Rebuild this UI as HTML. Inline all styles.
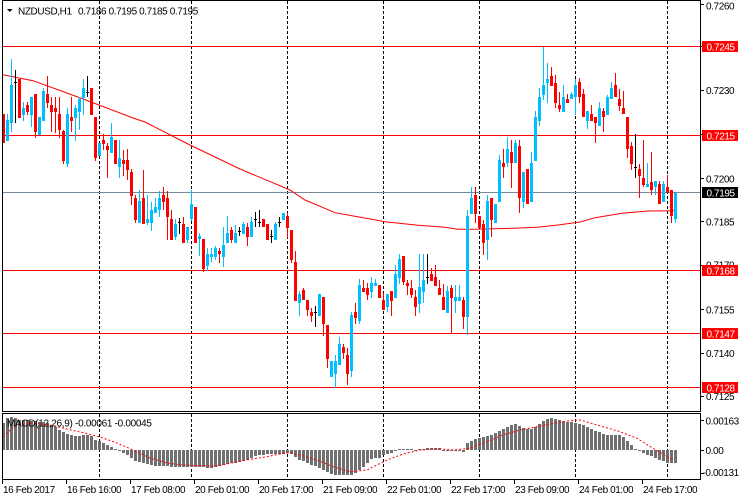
<!DOCTYPE html>
<html><head><meta charset="utf-8"><style>
html,body{margin:0;padding:0;background:#fff;}
svg{display:block}
text{font-family:"Liberation Sans",Arial,sans-serif;font-size:10px;letter-spacing:-0.4px;fill:#000;}
</style></head><body>
<svg width="740" height="500" viewBox="0 0 740 500" xmlns="http://www.w3.org/2000/svg" shape-rendering="crispEdges">
<defs>
<clipPath id="cm"><rect x="3" y="1" width="697" height="410"/></clipPath>
<clipPath id="cd"><rect x="3" y="414" width="697" height="65"/></clipPath>
</defs>
<rect x="0" y="0" width="740" height="500" fill="#fff"/>

<!-- main panel -->
<g clip-path="url(#cm)">
<g stroke="#000" stroke-width="1" stroke-dasharray="3,2" fill="none">
<line x1="99.5" y1="1" x2="99.5" y2="411"/>
<line x1="191.5" y1="1" x2="191.5" y2="411"/>
<line x1="287.5" y1="1" x2="287.5" y2="411"/>
<line x1="383.5" y1="1" x2="383.5" y2="411"/>
<line x1="479.5" y1="1" x2="479.5" y2="411"/>
<line x1="575.5" y1="1" x2="575.5" y2="411"/>
<line x1="667.5" y1="1" x2="667.5" y2="411"/>
</g>
<g fill="#ff0000">
<rect x="3" y="46" width="697" height="1"/>
<rect x="3" y="135" width="697" height="1"/>
<rect x="3" y="270" width="697" height="1"/>
<rect x="3" y="333" width="697" height="1"/>
<rect x="3" y="387" width="697" height="1"/>
</g>
<rect x="3" y="192" width="697" height="1" fill="#778899"/>
<polyline fill="none" stroke="#ff0000" stroke-width="1" shape-rendering="auto" points="2,74.5 33,80.7 67,93 99,105 133,118 145,122 190,145 240,169 290,190 305,200 335,212.7 352,215.7 385,221.7 418,225.3 445,227.3 458,229.3 475,229.3 513,228.3 537,227.3 558,225 580,222 595,217.7 622,213.3 648,211 675,210.7"/>
<path fill="#00bfff" d="M6 120h3V141h-3zM10 85h3V123h-3zM22 108h3V115h-3zM30 97h3V115h-3zM38 117h3V135h-3zM42 91h3V121h-3zM66 114h3V164h-3zM74 108h3V118h-3zM78 99h3V112h-3zM82 88h3V98h-3zM98 143h3V156h-3zM110 137h3V153h-3zM118 158h3V167h-3zM138 201h3V223h-3zM146 219h3V223h-3zM150 210h3V223h-3zM154 207h3V213h-3zM158 198h3V210h-3zM174 224h3V237h-3zM186 227h3V240h-3zM190 204h3V219h-3zM198 236h3V239h-3zM206 254h3V266h-3zM210 254h3V257h-3zM214 248h3V257h-3zM222 245h3V257h-3zM226 233h3V243h-3zM234 233h3V243h-3zM242 224h3V234h-3zM250 222h3V237h-3zM274 224h3V240h-3zM282 213h3V220h-3zM298 294h3V303h-3zM318 294h3V316h-3zM330 361h3V377h-3zM334 361h3V374h-3zM338 344h3V365h-3zM350 315h3V371h-3zM358 285h3V321h-3zM370 283h3V292h-3zM374 283h3V286h-3zM386 294h3V307h-3zM394 274h3V298h-3zM398 259h3V278h-3zM418 287h3V304h-3zM422 280h3V292h-3zM446 291h3V313h-3zM454 297h3V301h-3zM458 297h3V301h-3zM466 216h3V317h-3zM470 198h3V214h-3zM486 201h3V240h-3zM494 204h3V223h-3zM498 160h3V202h-3zM506 149h3V163h-3zM514 143h3V163h-3zM522 172h3V202h-3zM530 163h3V202h-3zM534 117h3V161h-3zM538 97h3V121h-3zM542 85h3V95h-3zM546 79h3V83h-3zM562 97h3V112h-3zM570 94h3V99h-3zM574 85h3V97h-3zM586 111h3V121h-3zM598 108h3V126h-3zM606 97h3V115h-3zM610 88h3V99h-3zM646 184h3V187h-3zM654 181h3V187h-3zM662 184h3V202h-3zM674 193h3V219h-3z
M7 114h1V141h-1zM11 59h1V132h-1zM23 102h1V121h-1zM31 97h1V127h-1zM43 88h1V121h-1zM67 108h1V167h-1zM75 105h1V141h-1zM79 97h1V130h-1zM83 79h1V115h-1zM111 123h1V153h-1zM119 140h1V178h-1zM139 190h1V223h-1zM147 195h1V225h-1zM151 202h1V231h-1zM155 198h1V213h-1zM159 191h1V217h-1zM175 219h1V240h-1zM187 227h1V243h-1zM191 190h1V221h-1zM199 233h1V256h-1zM207 248h1V271h-1zM211 248h1V262h-1zM215 246h1V260h-1zM223 227h1V267h-1zM227 216h1V243h-1zM235 225h1V243h-1zM243 222h1V234h-1zM251 217h1V237h-1zM275 222h1V240h-1zM299 291h1V316h-1zM335 355h1V388h-1zM339 337h1V365h-1zM351 312h1V377h-1zM359 279h1V324h-1zM371 277h1V298h-1zM375 279h1V286h-1zM387 294h1V312h-1zM395 265h1V298h-1zM399 254h1V284h-1zM419 254h1V313h-1zM423 254h1V303h-1zM447 286h1V313h-1zM455 285h1V313h-1zM459 285h1V301h-1zM467 210h1V335h-1zM471 187h1V214h-1zM487 195h1V260h-1zM499 155h1V202h-1zM507 137h1V167h-1zM515 140h1V163h-1zM523 172h1V208h-1zM531 152h1V202h-1zM535 111h1V161h-1zM539 88h1V126h-1zM543 47h1V100h-1zM547 63h1V103h-1zM563 85h1V112h-1zM571 92h1V99h-1zM575 79h1V115h-1zM587 111h1V129h-1zM599 102h1V126h-1zM607 95h1V115h-1zM611 82h1V99h-1zM647 163h1V187h-1zM655 181h1V195h-1zM663 181h1V202h-1zM675 193h1V223h-1z"/>
<path fill="#ff0000" d="M2 114h3V143h-3zM18 79h3V118h-3zM26 105h3V112h-3zM34 94h3V132h-3zM46 94h3V103h-3zM50 105h3V112h-3zM54 108h3V112h-3zM58 114h3V130h-3zM62 131h3V161h-3zM70 117h3V121h-3zM90 88h3V115h-3zM94 117h3V158h-3zM102 140h3V144h-3zM106 146h3V150h-3zM114 140h3V164h-3zM122 160h3V164h-3zM126 160h3V170h-3zM130 172h3V196h-3zM134 198h3V220h-3zM142 198h3V224h-3zM162 195h3V202h-3zM166 198h3V217h-3zM170 219h3V240h-3zM182 224h3V243h-3zM194 207h3V243h-3zM202 239h3V269h-3zM218 251h3V254h-3zM230 230h3V240h-3zM246 227h3V237h-3zM262 219h3V227h-3zM266 224h3V240h-3zM286 216h3V228h-3zM290 230h3V260h-3zM294 262h3V301h-3zM302 290h3V300h-3zM306 300h3V310h-3zM310 312h3V316h-3zM322 297h3V324h-3zM326 325h3V359h-3zM342 347h3V353h-3zM346 355h3V374h-3zM354 312h3V318h-3zM362 288h3V292h-3zM366 288h3V295h-3zM378 285h3V298h-3zM382 300h3V310h-3zM390 291h3V301h-3zM402 256h3V282h-3zM406 283h3V286h-3zM410 288h3V295h-3zM414 297h3V307h-3zM430 274h3V281h-3zM434 277h3V286h-3zM438 288h3V295h-3zM442 297h3V310h-3zM450 288h3V298h-3zM462 300h3V317h-3zM474 195h3V214h-3zM478 216h3V228h-3zM482 224h3V243h-3zM490 198h3V220h-3zM502 163h3V167h-3zM510 152h3V163h-3zM518 146h3V198h-3zM526 169h3V204h-3zM550 76h3V86h-3zM554 83h3V103h-3zM558 105h3V109h-3zM566 99h3V103h-3zM578 82h3V97h-3zM582 94h3V117h-3zM590 114h3V121h-3zM594 117h3V123h-3zM602 111h3V117h-3zM614 85h3V97h-3zM618 99h3V106h-3zM622 108h3V114h-3zM626 117h3V149h-3zM630 146h3V164h-3zM638 169h3V176h-3zM642 178h3V185h-3zM650 182h3V190h-3zM658 184h3V204h-3zM666 187h3V193h-3zM670 190h3V216h-3z
M27 102h1V115h-1zM35 94h1V138h-1zM47 76h1V108h-1zM51 97h1V132h-1zM55 97h1V133h-1zM59 97h1V138h-1zM63 130h1V164h-1zM71 97h1V132h-1zM95 117h1V161h-1zM103 134h1V150h-1zM107 143h1V178h-1zM123 150h1V176h-1zM127 149h1V180h-1zM131 169h1V205h-1zM135 195h1V223h-1zM143 170h1V224h-1zM163 187h1V210h-1zM167 191h1V240h-1zM171 210h1V240h-1zM183 217h1V243h-1zM203 239h1V272h-1zM219 248h1V263h-1zM231 227h1V243h-1zM247 223h1V246h-1zM287 213h1V238h-1zM291 230h1V263h-1zM295 251h1V301h-1zM303 288h1V300h-1zM307 300h1V316h-1zM311 308h1V322h-1zM323 297h1V336h-1zM327 325h1V368h-1zM343 344h1V359h-1zM347 348h1V385h-1zM355 303h1V324h-1zM363 280h1V292h-1zM367 283h1V300h-1zM383 293h1V310h-1zM391 291h1V316h-1zM403 256h1V285h-1zM407 280h1V295h-1zM411 280h1V298h-1zM415 290h1V316h-1zM431 268h1V281h-1zM435 265h1V286h-1zM439 280h1V295h-1zM443 284h1V310h-1zM451 285h1V333h-1zM463 297h1V329h-1zM475 187h1V223h-1zM483 220h1V255h-1zM491 198h1V237h-1zM503 149h1V178h-1zM511 140h1V188h-1zM519 140h1V213h-1zM551 67h1V86h-1zM555 75h1V108h-1zM559 92h1V112h-1zM567 94h1V103h-1zM579 78h1V103h-1zM583 89h1V117h-1zM591 105h1V121h-1zM595 117h1V143h-1zM603 108h1V132h-1zM615 73h1V97h-1zM619 89h1V111h-1zM623 91h1V114h-1zM627 117h1V158h-1zM631 142h1V170h-1zM639 164h1V198h-1zM643 140h1V187h-1zM651 152h1V195h-1zM659 181h1V204h-1zM667 175h1V193h-1zM671 190h1V223h-1z"/>
<path fill="#000" d="M14 82h3v1h-3zM15 70h1V123h-1zM86 92h3v1h-3zM87 76h1V97h-1zM178 222h3v1h-3zM179 218h1V234h-1zM238 231h3v1h-3zM239 227h1V236h-1zM254 219h3v1h-3zM255 212h1V227h-1zM258 222h3v1h-3zM259 210h1V227h-1zM270 236h3v1h-3zM271 230h1V243h-1zM278 222h3v1h-3zM279 217h1V227h-1zM314 312h3v1h-3zM315 306h1V327h-1zM426 277h3v1h-3zM427 254h1V284h-1zM634 167h3v1h-3zM635 134h1V178h-1z"/>
</g>

<!-- MACD panel -->
<g clip-path="url(#cd)">
<g stroke="#000" stroke-width="1" stroke-dasharray="3,2" fill="none">
<line x1="99.5" y1="414" x2="99.5" y2="479"/>
<line x1="191.5" y1="414" x2="191.5" y2="479"/>
<line x1="287.5" y1="414" x2="287.5" y2="479"/>
<line x1="383.5" y1="414" x2="383.5" y2="479"/>
<line x1="479.5" y1="414" x2="479.5" y2="479"/>
<line x1="575.5" y1="414" x2="575.5" y2="479"/>
<line x1="667.5" y1="414" x2="667.5" y2="479"/>
</g>
<path fill="#707070" d="M2 450V423h3V450zM6 450V418h3V450zM10 450V417h3V450zM14 450V418h3V450zM18 450V420h3V450zM22 450V420h3V450zM26 450V420h3V450zM30 450V421h3V450zM34 450V421h3V450zM38 450V422h3V450zM42 450V422h3V450zM46 450V423h3V450zM50 450V425h3V450zM54 450V427h3V450zM58 450V430h3V450zM62 450V432h3V450zM66 450V434h3V450zM70 450V435h3V450zM74 450V436h3V450zM78 450V436h3V450zM82 450V435h3V450zM86 450V435h3V450zM90 450V436h3V450zM94 450V440h3V450zM98 450V441h3V450zM102 450V443h3V450zM106 450V445h3V450zM110 450V447h3V450zM114 450V449h3V450zM118 450V451h3V450zM122 450V453h3V450zM126 450V455h3V450zM130 450V458h3V450zM134 450V461h3V450zM138 450V462h3V450zM142 450V463h3V450zM146 450V464h3V450zM150 450V465h3V450zM154 450V466h3V450zM158 450V466h3V450zM162 450V466h3V450zM166 450V466h3V450zM170 450V467h3V450zM174 450V467h3V450zM178 450V467h3V450zM182 450V467h3V450zM186 450V467h3V450zM190 450V467h3V450zM194 450V467h3V450zM198 450V467h3V450zM202 450V467h3V450zM206 450V468h3V450zM210 450V468h3V450zM214 450V467h3V450zM218 450V466h3V450zM222 450V465h3V450zM226 450V464h3V450zM230 450V463h3V450zM234 450V463h3V450zM238 450V462h3V450zM242 450V461h3V450zM246 450V460h3V450zM250 450V458h3V450zM254 450V456h3V450zM258 450V455h3V450zM262 450V455h3V450zM266 450V454h3V450zM270 450V454h3V450zM274 450V454h3V450zM278 450V454h3V450zM282 450V454h3V450zM286 450V453h3V450zM290 450V454h3V450zM294 450V457h3V450zM298 450V460h3V450zM302 450V461h3V450zM306 450V463h3V450zM310 450V465h3V450zM314 450V466h3V450zM318 450V468h3V450zM322 450V470h3V450zM326 450V472h3V450zM330 450V474h3V450zM334 450V475h3V450zM338 450V475h3V450zM342 450V475h3V450zM346 450V475h3V450zM350 450V475h3V450zM354 450V473h3V450zM358 450V470h3V450zM362 450V467h3V450zM366 450V463h3V450zM370 450V459h3V450zM374 450V458h3V450zM378 450V458h3V450zM382 450V455h3V450zM386 450V454h3V450zM390 450V453h3V450zM394 450V451h3V450zM398 450V449h3V450zM402 450V449h3V450zM406 450V449h3V450zM410 450V449h3V450zM414 450V451h3V450zM418 450V449h3V450zM422 450V449h3V450zM426 450V448h3V450zM430 450V448h3V450zM434 450V448h3V450zM438 450V448h3V450zM442 450V451h3V450zM446 450V451h3V450zM450 450V451h3V450zM454 450V451h3V450zM458 450V451h3V450zM462 450V452h3V450zM466 450V443h3V450zM470 450V441h3V450zM474 450V439h3V450zM478 450V438h3V450zM482 450V437h3V450zM486 450V436h3V450zM490 450V435h3V450zM494 450V433h3V450zM498 450V431h3V450zM502 450V429h3V450zM506 450V427h3V450zM510 450V425h3V450zM514 450V424h3V450zM518 450V426h3V450zM522 450V428h3V450zM526 450V429h3V450zM530 450V429h3V450zM534 450V427h3V450zM538 450V424h3V450zM542 450V421h3V450zM546 450V419h3V450zM550 450V418h3V450zM554 450V419h3V450zM558 450V420h3V450zM562 450V421h3V450zM566 450V422h3V450zM570 450V422h3V450zM574 450V423h3V450zM578 450V424h3V450zM582 450V425h3V450zM586 450V427h3V450zM590 450V429h3V450zM594 450V431h3V450zM598 450V432h3V450zM602 450V434h3V450zM606 450V435h3V450zM610 450V435h3V450zM614 450V435h3V450zM618 450V435h3V450zM622 450V437h3V450zM626 450V441h3V450zM630 450V445h3V450zM634 450V449h3V450zM638 450V451h3V450zM642 450V453h3V450zM646 450V455h3V450zM650 450V456h3V450zM654 450V458h3V450zM658 450V460h3V450zM662 450V461h3V450zM666 450V463h3V450zM670 450V463h3V450zM674 450V463h3V450z"/>
<polyline fill="none" stroke="#ff0000" stroke-width="1" stroke-dasharray="2,2" shape-rendering="auto" points="3,437 10,430 17,425 33,423 50,425 67,429 83,432.7 100,437 117,443 133,450 150,458 167,463 183,465 200,465.7 217,466 233,462.7 250,459.3 267,456.7 283,453.3 290,452.7 300,455 317,460 333,466.7 350,471.7 367,470 387,460 403,454 420,450 437,448.7 453,450 470,448.3 487,441.7 503,435 520,430 537,426.7 553,423.3 570,420.7 580,420 587,422 603,426.7 620,431.7 637,438.3 653,448.3 670,458.3 674,459.3"/>
</g>

<g fill="none" stroke="#000" stroke-width="1">
<path d="M2.5 0.5H700.5V411.5H2.5Z"/>
<path d="M2.5 413.5H700.5V479.5H2.5Z"/>
</g>

<g fill="#000">
<rect x="701" y="4" width="3" height="1"/>
<rect x="701" y="46" width="3" height="1"/>
<rect x="701" y="90" width="3" height="1"/>
<rect x="701" y="134" width="3" height="1"/>
<rect x="701" y="178" width="3" height="1"/>
<rect x="701" y="221" width="3" height="1"/>
<rect x="701" y="265" width="3" height="1"/>
<rect x="701" y="309" width="3" height="1"/>
<rect x="701" y="353" width="3" height="1"/>
<rect x="701" y="396" width="3" height="1"/>
<rect x="701" y="420" width="3" height="1"/>
<rect x="701" y="450" width="3" height="1"/>
<rect x="701" y="473" width="3" height="1"/>
</g>
<text x="706" y="9.5">0.7260</text>
<text x="706" y="94">0.7230</text>
<text x="706" y="182.5">0.7200</text>
<text x="706" y="225.5">0.7185</text>
<text x="706" y="268.5">0.7170</text>
<text x="706" y="313.5">0.7155</text>
<text x="706" y="357">0.7140</text>
<text x="706" y="400">0.7125</text>
<rect x="702" y="41" width="36" height="11" fill="#ff0000"/>
<text x="706.5" y="50.3" style="fill:#fff">0.7245</text>
<rect x="702" y="130" width="36" height="11" fill="#ff0000"/>
<text x="706.5" y="139.3" style="fill:#fff">0.7215</text>
<rect x="702" y="187" width="36" height="11" fill="#000"/>
<text x="706.5" y="196.3" style="fill:#fff">0.7195</text>
<rect x="702" y="265" width="36" height="11" fill="#ff0000"/>
<text x="706.5" y="274.3" style="fill:#fff">0.7168</text>
<rect x="702" y="328" width="36" height="11" fill="#ff0000"/>
<text x="706.5" y="337.3" style="fill:#fff">0.7147</text>
<rect x="702" y="382" width="36" height="11" fill="#ff0000"/>
<text x="706.5" y="391.3" style="fill:#fff">0.7128</text>
<text x="705.5" y="424.5">0.00163</text>
<text x="705.5" y="454">0.00</text>
<text x="702.5" y="476">-0.00131</text>

<polygon points="7,9 12.5,9 9.75,12" fill="#000" shape-rendering="auto"/>
<text x="18" y="14.3">NZDUSD,H1</text>
<text x="78" y="14.3">0.7186 0.7195 0.7185 0.7195</text>
<text x="7" y="426.5" style="letter-spacing:-0.3px">MACD(12,26,9) -0.00061 -0.00045</text>

<g fill="#000">
<rect x="2" y="480" width="1" height="4"/>
<rect x="66" y="480" width="1" height="4"/>
<rect x="130" y="480" width="1" height="4"/>
<rect x="194" y="480" width="1" height="4"/>
<rect x="258" y="480" width="1" height="4"/>
<rect x="322" y="480" width="1" height="4"/>
<rect x="386" y="480" width="1" height="4"/>
<rect x="450" y="480" width="1" height="4"/>
<rect x="514" y="480" width="1" height="4"/>
<rect x="578" y="480" width="1" height="4"/>
<rect x="642" y="480" width="1" height="4"/>
</g>
<text x="3" y="493">16 Feb 2017</text>
<text x="67" y="493">16 Feb 16:00</text>
<text x="131" y="493">17 Feb 08:00</text>
<text x="195" y="493">20 Feb 01:00</text>
<text x="259" y="493">20 Feb 17:00</text>
<text x="323" y="493">21 Feb 09:00</text>
<text x="387" y="493">22 Feb 01:00</text>
<text x="451" y="493">22 Feb 17:00</text>
<text x="515" y="493">23 Feb 09:00</text>
<text x="579" y="493">24 Feb 01:00</text>
<text x="643" y="493">24 Feb 17:00</text>
</svg>
</body></html>
